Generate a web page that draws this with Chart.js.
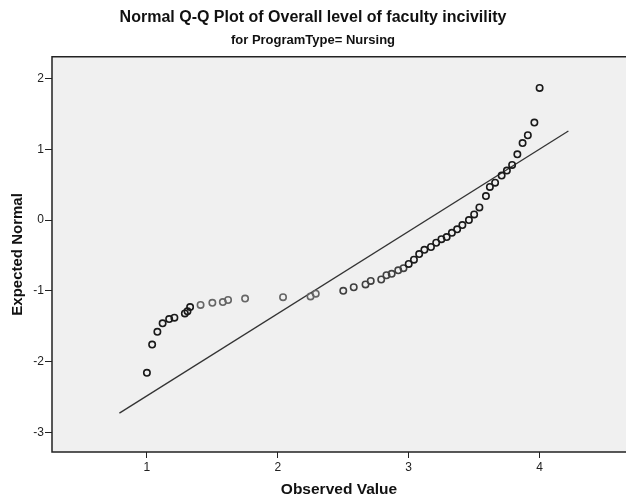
<!DOCTYPE html>
<html>
<head>
<meta charset="utf-8">
<script src="https://cdn.jsdelivr.net/npm/chart.js@4"></script>
<style>
    html, body { margin: 0; padding: 0; background: #fff; }
    #wrap { width: 626px; height: 502px; }
</style>
</head>
<body>
<div id="wrap"><canvas id="qq" width="626" height="502"></canvas></div>
<script>
const observed = [1.00, 1.04, 1.08, 1.12, 1.17, 1.21, 1.29, 1.31, 1.33, 1.41,
    1.50, 1.58, 1.62, 1.75, 2.04, 2.25, 2.29, 2.50, 2.58, 2.67,
    2.71, 2.79, 2.83, 2.87, 2.92, 2.96, 3.00, 3.04, 3.08, 3.12,
    3.17, 3.21, 3.25, 3.29, 3.33, 3.37, 3.41, 3.46, 3.50, 3.54,
    3.59, 3.62, 3.66, 3.71, 3.75, 3.79, 3.83, 3.87, 3.91, 3.96, 4.00];
const expected = [-2.16, -1.76, -1.58, -1.46, -1.40, -1.38, -1.32, -1.29, -1.23, -1.20,
    -1.17, -1.16, -1.13, -1.11, -1.09, -1.08, -1.04, -1.00, -0.95, -0.91,
    -0.86, -0.84, -0.78, -0.76, -0.71, -0.68, -0.62, -0.56, -0.48, -0.42,
    -0.38, -0.32, -0.27, -0.24, -0.18, -0.13, -0.07, 0.00, 0.08, 0.18,
    0.34, 0.47, 0.53, 0.63, 0.70, 0.78, 0.93, 1.09, 1.20, 1.38, 1.87];

// reference line end points
const lineX = [0.79, 4.22];
const lineY = [-2.73, 1.26];

const xTicks = [1, 2, 3, 4];
const yTicks = [-3, -2, -1, 0, 1, 2];

const plotBg = {
    id: "plotBg",
    beforeDraw(chart) {
        const { ctx, chartArea: a } = chart;
        ctx.save();
        ctx.fillStyle = "#f0f0f0";
        ctx.fillRect(a.left, a.top, a.right - a.left, a.bottom - a.top);
        ctx.restore();
    },
    afterDraw(chart) {
        const { ctx, chartArea: a } = chart;
        ctx.save();
        ctx.strokeStyle = "#222";
        ctx.lineWidth = 1.5;
        ctx.beginPath();
        ctx.moveTo(a.right, a.top);
        ctx.lineTo(a.left, a.top);
        ctx.lineTo(a.left, a.bottom);
        ctx.lineTo(a.right, a.bottom);
        ctx.stroke();
        ctx.restore();
    }
};

function pointColor(c) {
    const v = c.raw ? c.raw.x : 0;
    if (v <= 1.34 || v >= 2.98) return "#1a1a1a";
    if (v < 2.3) return "#666";
    return "#404040";
}

new Chart(document.getElementById("qq"), {
    data: {
        datasets: [
            {
                type: "scatter",
                data: observed.map((x, i) => ({ x, y: expected[i] })),
                pointStyle: "circle",
                pointRadius: 3.2,
                pointBorderWidth: 1.6,
                pointBackgroundColor: "rgba(0,0,0,0)",
                pointBorderColor: pointColor,
                order: 1
            },
            {
                type: "line",
                data: lineX.map((x, i) => ({ x, y: lineY[i] })),
                borderColor: "#333",
                borderWidth: 1.3,
                pointRadius: 0,
                fill: false,
                order: 2
            }
        ]
    },
    options: {
        responsive: false,
        animation: false,
        layout: { autoPadding: false, padding: 0 },
        plugins: {
            legend: { display: false },
            tooltip: { enabled: false },
            title: {
                display: true,
                text: "Normal Q-Q Plot of Overall level of faculty incivility",
                color: "#111",
                font: { family: "Arial, 'Liberation Sans', sans-serif", size: 16, weight: "bold" },
                padding: { top: 8, bottom: 3 }
            },
            subtitle: {
                display: true,
                text: "for ProgramType= Nursing",
                color: "#111",
                font: { family: "'Liberation Sans Narrow', 'Arial Narrow', Arial, sans-serif", size: 13, weight: "bold" },
                padding: { top: 2, bottom: 9 }
            }
        },
        scales: {
            x: {
                type: "linear",
                min: 0.275,
                max: 4.66,
                afterBuildTicks: s => { s.ticks = xTicks.map(v => ({ value: v })); },
                afterFit: s => { s.height = 50; },
                grid: { drawOnChartArea: false, tickLength: 6, tickColor: "#222" },
                border: { display: false },
                ticks: { color: "#222", padding: 2, font: { family: "Arial, sans-serif", size: 12 } },
                title: {
                    display: true,
                    text: "Observed Value",
                    color: "#111",
                    padding: { top: 4, bottom: 3 },
                    font: { family: "Arial, sans-serif", size: 15.5, weight: "bold" }
                }
            },
            y: {
                type: "linear",
                min: -3.28,
                max: 2.31,
                afterBuildTicks: s => { s.ticks = yTicks.map(v => ({ value: v })); },
                afterFit: s => { s.width = 52; },
                grid: { drawOnChartArea: false, tickLength: 7, tickColor: "#222" },
                border: { display: false },
                ticks: { color: "#222", padding: 1, font: { family: "Arial, sans-serif", size: 12 } },
                title: {
                    display: true,
                    text: "Expected Normal",
                    color: "#111",
                    padding: { top: 9, bottom: 4 },
                    font: { family: "Arial, sans-serif", size: 15, weight: "bold" }
                }
            }
        }
    },
    plugins: [plotBg]
});
</script>
</body>
</html>
